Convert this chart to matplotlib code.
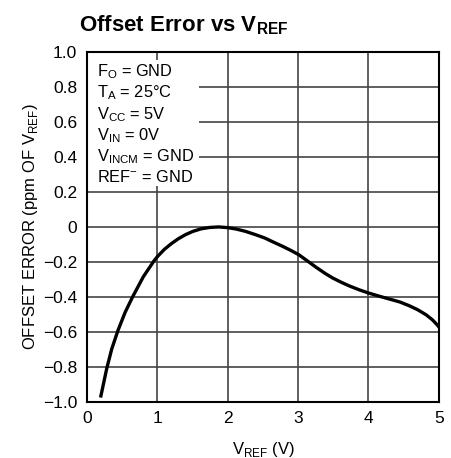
import matplotlib.pyplot as plt
from matplotlib.patches import Rectangle
from matplotlib.ticker import FixedLocator, FixedFormatter

plt.rcParams['font.family'] = ['Liberation Sans', 'DejaVu Sans']
plt.rcParams['mathtext.fontset'] = 'custom'
plt.rcParams['mathtext.rm'] = 'Liberation Sans'
plt.rcParams['mathtext.bf'] = 'Liberation Sans:bold'

# curve
vref = [0.197, 0.28, 0.35, 0.437, 0.54, 0.648, 0.8, 0.95, 1.0, 1.1, 1.2, 1.3,
        1.4, 1.5, 1.62, 1.74, 1.87, 2.0, 2.12, 2.25, 2.4, 2.53, 2.65, 2.78, 2.9,
        3.01, 3.13, 3.26, 3.38, 3.49, 3.62, 3.73, 3.87, 4.0, 4.15, 4.3, 4.45,
        4.58, 4.7, 4.82, 4.91, 4.98, 5.0]
offset = [-0.967, -0.81, -0.70, -0.595, -0.49, -0.40, -0.285, -0.195, -0.17,
          -0.128, -0.095, -0.067, -0.044, -0.026, -0.011, -0.003, 0.0, -0.004,
          -0.012, -0.025, -0.045, -0.064, -0.087, -0.111, -0.135, -0.159, -0.194,
          -0.232, -0.265, -0.292, -0.318, -0.338, -0.36, -0.378, -0.396, -0.413,
          -0.43, -0.451, -0.474, -0.503, -0.532, -0.562, -0.572]

xticks = [0, 1, 2, 3, 4, 5]
yticks = [1.0, 0.8, 0.6, 0.4, 0.2, 0, -0.2, -0.4, -0.6, -0.8, -1.0]
ylabels = ['1.0', '0.8', '0.6', '0.4', '0.2', '0', '\u22120.2', '\u22120.4',
           '\u22120.6', '\u22120.8', '\u22121.0']
notes = [r'F$_\mathregular{O}$ = GND', r'T$_\mathregular{A}$ = 25°C',
         r'V$_\mathregular{CC}$ = 5V', r'V$_\mathregular{IN}$ = 0V',
         r'V$_\mathregular{INCM}$ = GND', r'REF$^\mathregular{-}$ = GND']

fig = plt.figure(figsize=(4.51, 4.58), dpi=100)
ax = fig.add_axes([0.193, 0.123, 0.78, 0.763])

ax.plot(vref, offset, color='black', lw=2.4, zorder=5)

ax.set_xlim(0, 5)
ax.set_ylim(-1.0, 1.0)
ax.xaxis.set_major_locator(FixedLocator(xticks))
ax.yaxis.set_major_locator(FixedLocator(yticks))
ax.yaxis.set_major_formatter(FixedFormatter(ylabels))
ax.tick_params(length=0, labelsize=12.5, pad=7, colors='black')
ax.grid(True, color='#444444', lw=1.2)
for s in ax.spines.values():
    s.set_linewidth(1.5)
    s.set_zorder(6)

# white patch behind the conditions text
ax.add_patch(Rectangle((0.003, 0.617), 0.315, 0.36, transform=ax.transAxes,
                       facecolor='white', edgecolor='none', zorder=3))
for i, t in enumerate(notes):
    ax.text(0.028, 0.930 - i * 0.0603, t, transform=ax.transAxes, fontsize=11.8,
            va='baseline', ha='left', zorder=4)

ax.set_xlabel(r'V$_\mathregular{REF}$ (V)', fontsize=12)
ax.xaxis.set_label_coords(0.5, -0.11)
ax.set_ylabel(r'OFFSET ERROR (ppm OF V$_\mathregular{REF}$)', fontsize=12)
ax.yaxis.set_label_coords(-0.135, 0.5)
fig.text(0.175, 0.931, r'Offset Error vs V$_\mathbf{REF}$', fontsize=16,
         fontweight='bold', ha='left', va='baseline')

fig.savefig('out.png', dpi=100)
